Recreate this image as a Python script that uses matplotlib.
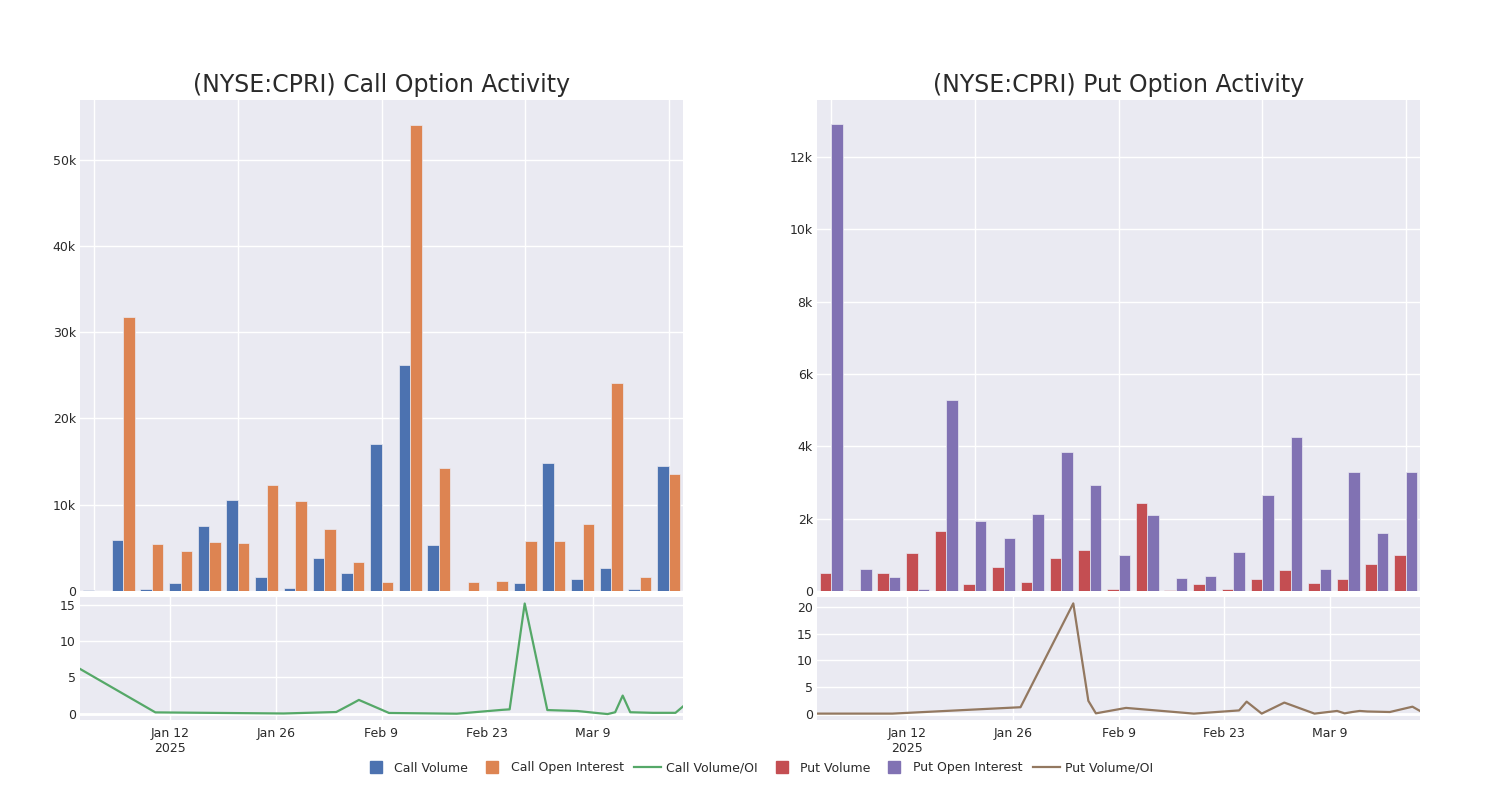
import numpy as np
import pandas as pd
import matplotlib
matplotlib.use("Agg")
import matplotlib.pyplot as plt
from matplotlib.lines import Line2D
from matplotlib.ticker import FuncFormatter

plt.rcParams['font.family'] = ['DejaVu Sans']

# bar chart data (21 expiry groups)
call_volume = [150, 5870, 230, 970, 7570, 10510, 1580, 350, 3790, 2050, 17080,
               26240, 5330, 50, 0, 970, 14840, 1350, 2630, 190, 14490]
call_oi = [25, 31720, 5410, 4680, 5680, 5600, 12330, 10390, 7190, 3400, 1080,
           54060, 14220, 1040, 1120, 5800, 5800, 7730, 24110, 1620, 13600]
put_volume = [498, 20, 498, 1060, 1659, 203, 673, 240, 922, 1134, 65,
              2433, 20, 194, 55, 332, 571, 230, 332, 737, 995]
put_oi = [12894, 608, 396, 46, 5290, 1935, 1456, 2138, 3834, 2931, 1005,
          2111, 359, 415, 1069, 2664, 4249, 618, 3290, 1594, 3290]

# volume / open interest ratio by date
ratio_dates = ["2024-12-31", "2025-01-10", "2025-01-27", "2025-02-03", "2025-02-05",
               "2025-02-06", "2025-02-10", "2025-02-19", "2025-02-25", "2025-02-26",
               "2025-02-28", "2025-03-03", "2025-03-07", "2025-03-10", "2025-03-11",
               "2025-03-12", "2025-03-13", "2025-03-14", "2025-03-17", "2025-03-20",
               "2025-03-21"]
call_ratio = [6.18, 0.18, 0.03, 0.23, 1.33, 1.9, 0.1, 0.0, 0.53, 0.6, 15.2,
              0.5, 0.37, 0.05, -0.05, 0.2, 2.5, 0.2, 0.12, 0.12, 1.0]
put_ratio = [0.0, 0.0, 1.2, 20.7, 2.4, 0.05, 1.07, 0.0, 0.6, 2.25, 0.0,
             2.07, 0.0, 0.5, 0.05, 0.3, 0.5, 0.4, 0.3, 1.3, 0.5]

date_ticks = ["2025-01-12", "2025-01-26", "2025-02-09", "2025-02-23", "2025-03-09"]
date_labels = ["Jan 12\n2025", "Jan 26", "Feb 9", "Feb 23", "Mar 9"]

BG = "#EAEAF2"
TXT = "#2a2a2a"
C_BLUE, C_ORANGE, C_GREEN = "#4C72B0", "#DD8452", "#55A868"
C_RED, C_PURPLE, C_BROWN = "#C44E52", "#8172B3", "#937860"

W, H = 1500.0, 800.0
fig = plt.figure(figsize=(15, 8), dpi=100)


def box(x0, y0, x1, y1):
    return [x0 / W, 1 - y1 / H, (x1 - x0) / W, (y1 - y0) / H]


def kfmt(v, pos):
    if v == 0:
        return "0"
    return "%dk" % round(v / 1000)


def style(ax):
    ax.set_facecolor(BG)
    for s in ax.spines.values():
        s.set_visible(False)
    ax.grid(True, color="white", lw=1.0)
    ax.set_axisbelow(True)
    ax.tick_params(length=0, labelsize=9, colors=TXT, pad=3)


def bar_panel(x0, title, vol, oi, c1, c2, ystep, ymax):
    ax = fig.add_axes(box(x0, 100, x0 + 603, 591))
    style(ax)
    x = np.arange(len(vol))
    ax.bar(x - 0.2, vol, width=0.4, color=c1, edgecolor=BG, linewidth=0.5)
    ax.bar(x + 0.2, oi, width=0.4, color=c2, edgecolor=BG, linewidth=0.5)
    ax.set_xlim(-0.5, len(vol) - 0.5)
    ax.set_xticks([0, 5, 10, 15, 20])
    ax.set_xticklabels([])
    ax.set_ylim(0, ymax)
    ax.set_yticks(np.arange(0, ymax, ystep))
    ax.yaxis.set_major_formatter(FuncFormatter(kfmt))
    ax.set_title(title, fontsize=17, color=TXT, pad=6)
    return ax


def line_panel(x0, vals, color, yticks, ylim):
    ax = fig.add_axes(box(x0, 597, x0 + 603, 720))
    style(ax)
    d = pd.to_datetime(ratio_dates)
    ax.axhline(0, color="white", lw=2, zorder=1)
    ax.plot(d, vals, color=color, lw=1.6, zorder=3)
    ax.set_xlim(d[0], d[-1])
    ax.set_ylim(*ylim)
    ax.set_yticks(yticks)
    ax.set_xticks(pd.to_datetime(date_ticks))
    ax.set_xticklabels(date_labels)
    ax.tick_params(axis="x", pad=5)
    return ax


bar_panel(80, "(NYSE:CPRI) Call Option Activity", call_volume, call_oi,
          C_BLUE, C_ORANGE, 10000, 56900)
bar_panel(817, "(NYSE:CPRI) Put Option Activity", put_volume, put_oi,
          C_RED, C_PURPLE, 2000, 13570)
line_panel(80, call_ratio, C_GREEN, [0, 5, 10, 15], (-0.87, 16.1))
line_panel(817, put_ratio, C_BROWN, [0, 5, 10, 15, 20], (-1.2, 21.9))

handles = [
    Line2D([], [], marker="s", ls="none", color=C_BLUE, markersize=8),
    Line2D([], [], marker="s", ls="none", color=C_ORANGE, markersize=8),
    Line2D([], [], color=C_GREEN, lw=1.6),
    Line2D([], [], marker="s", ls="none", color=C_RED, markersize=8),
    Line2D([], [], marker="s", ls="none", color=C_PURPLE, markersize=8),
    Line2D([], [], color=C_BROWN, lw=1.6),
]
labels = ["Call Volume", "Call Open Interest", "Call Volume/OI",
          "Put Volume", "Put Open Interest", "Put Volume/OI"]
fig.legend(handles, labels, loc="center", bbox_to_anchor=(0.505, 1 - 768 / H),
           ncol=6, frameon=False, fontsize=9, handlelength=2.2,
           handletextpad=0.4, columnspacing=0.8, labelcolor=TXT)

fig.savefig("out.png", dpi=100)
